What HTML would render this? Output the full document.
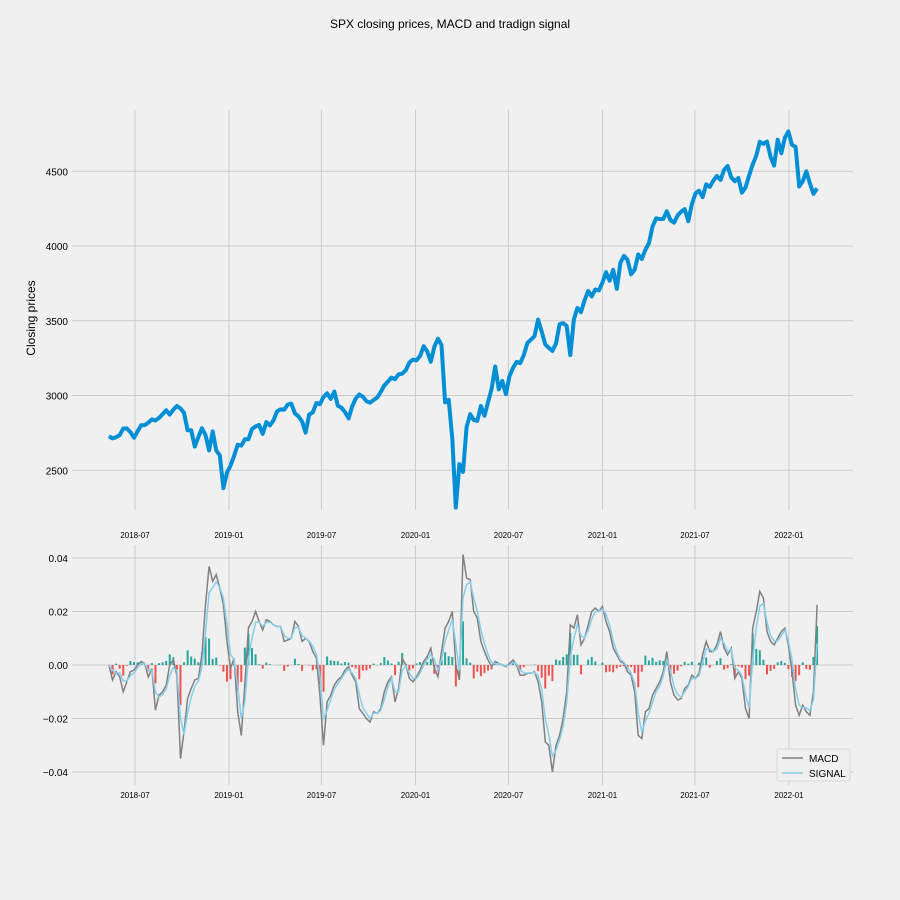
<!DOCTYPE html>
<html><head><meta charset="utf-8"><style>
body{margin:0;background:#f0f0f0;}
svg{display:block;font-family:"Liberation Sans","DejaVu Sans",sans-serif;}
</style></head><body>
<svg id="c" width="900" height="900" xmlns="http://www.w3.org/2000/svg">
<rect width="900" height="900" fill="#f0f0f0"/>
<text x="450" y="28" text-anchor="middle" font-size="12" fill="#000">SPX closing prices, MACD and tradign signal</text>
<text transform="translate(35,318) rotate(-90)" text-anchor="middle" font-size="12" fill="#000">Closing prices</text>
<g id="topPanel"></g>
<g id="botPanel"></g>
<g>
<rect x="777" y="749" width="73" height="32" rx="2" fill="#f0f0f0" stroke="#d8d8d8"/>
<line x1="782" y1="758" x2="803" y2="758" stroke="#808080" stroke-width="1.5"/>
<text x="809" y="762" font-size="10">MACD</text>
<line x1="782" y1="773" x2="803" y2="773" stroke="#87ceeb" stroke-width="1.5"/>
<text x="809" y="777" font-size="10">SIGNAL</text>
</g>
</svg>
<script>
const startDate = "2018-05-11";
const tickLabels = ["2018-07","2019-01","2019-07","2020-01","2020-07","2021-01","2021-07","2022-01"];
const priceTicks = [2500,3000,3500,4000,4500];
const macdTicks = [0.04,0.02,0,-0.02,-0.04];
const macdTickLabels = ["0.04","0.02","0.00","\u22120.02","\u22120.04"];
const prices = [2728,2713,2721,2735,2779,2780,2755,2718,2760,2801,2802,2819,2840,2833,2850,2875,2902,2872,2905,2930,2913,2885,2767,2767,2658,2723,2781,2736,2633,2760,2633,2600,2380,2485,
2531,2596,2671,2665,2707,2707,2775,2793,2803,2743,2822,2800,2834,2893,2907,2905,2940,2946,2881,2860,2826,2752,2873,2887,2950,2942,2990,3014,2977,3026,2932,2919,2889,2847,2926,2979,3007,2992,2962,2952,2970,2986,3023,3067,3093,3120,3110,3141,3146,3169,3221,3240,
3235,3265,3330,3295,3226,3328,3380,3338,2954,2972,2711,2250,2541,2489,2790,2875,2837,2831,2930,2864,2955,3044,3194,3041,3098,3009,3130,3185,3225,3216,3271,3351,3373,3397,3508,3427,3341,3319,3298,3348,3477,3484,3465,3270,3510,3585,3558,3638,3699,3663,3709,3703,3756,
3825,3768,3841,3714,3887,3934,3907,3811,3842,3943,3913,3975,4020,4129,4185,4180,4181,4233,4174,4156,4204,4230,4247,4166,4281,4352,4370,4327,4412,4395,4437,4468,4442,4509,4535,4459,4433,4455,4357,4391,4471,4545,4605,4697,4683,4698,4595,4538,4712,4620,4725,4766,
4677,4663,4398,4432,4500,4419,4349,4385];
const macd = [0,-0.0056,-0.0025,-0.0044,-0.01,-0.0063,-0.0025,-0.0019,0,0.0013,0.0006,-0.0044,-0.0013,-0.0169,-0.0113,-0.01,-0.0075,0,0.0019,-0.0038,-0.035,-0.025,-0.0125,-0.0088,-0.0056,-0.005,0.0038,0.0225,0.0369,0.0313,0.0338,0.0288,0.0225,0.0088,-0.0013,0.0025,-0.0175,-0.0263,-0.0075,0.0138,0.0163,0.02,0.0163,0.0131,0.0169,0.0163,0.015,0.0144,0.0144,0.0088,0.0094,0.01,0.0163,0.0144,0.0088,0.01,0.0088,0.005,0.0025,-0.0113,-0.03,-0.0138,-0.0113,-0.0075,-0.0056,-0.0044,-0.0019,-0.0006,-0.0038,-0.0063,-0.0163,-0.0181,-0.02,-0.0213,-0.0175,-0.0181,-0.0163,-0.01,-0.0063,-0.0044,-0.0138,-0.0088,0.0025,0,-0.005,-0.0063,-0.0044,-0.0019,0.0013,0.0031,0.0063,-0.0013,-0.0044,0.005,0.0138,0.0163,0.02,0,-0.0056,0.0413,0.0325,0.0319,0.02,0.0175,0.0088,0.005,0.0019,-0.0006,0.0013,0.0006,0,-0.0006,0.0006,0.0019,0,-0.0038,-0.0038,-0.0031,-0.0031,-0.0025,-0.0063,-0.0138,-0.0288,-0.03,-0.04,-0.03,-0.0263,-0.02,-0.01,0.015,0.0138,0.0188,0.0075,0.01,0.015,0.02,0.0213,0.02,0.0219,0.0163,0.0125,0.0063,0.0038,0.0013,0.0006,-0.0025,-0.0038,-0.01,-0.0263,-0.0275,-0.0175,-0.0163,-0.0113,-0.0088,-0.0063,-0.0025,0.005,-0.0063,-0.0113,-0.0131,-0.0125,-0.0088,-0.0075,-0.0038,-0.005,-0.0031,0.0038,0.0088,0.005,0.005,0.0075,0.0125,0.0063,0.0038,0.0063,-0.005,-0.0025,-0.005,-0.0163,-0.02,0.0138,0.02,0.0275,0.025,0.0125,0.0088,0.0075,0.01,0.0125,0.0138,0.0075,-0.0025,-0.015,-0.0188,-0.015,-0.0175,-0.0188,-0.01,0.0225];
const signal = [0,-0.002,-0.003,-0.003,-0.006,-0.006,-0.004,-0.003,-0.001,0.0005,0.0006,-0.002,-0.002,-0.01,-0.012,-0.011,-0.009,-0.004,-0.001,-0.002,-0.02,-0.026,-0.018,-0.012,-0.008,-0.006,-0.001,0.012,0.027,0.029,0.031,0.029,0.025,0.015,0.004,0.002,-0.008,-0.02,-0.014,0.002,0.01,0.016,0.016,0.0145,0.016,0.016,0.015,0.0145,0.0143,0.011,0.01,0.01,0.014,0.014,0.011,0.01,0.009,0.007,0.004,-0.004,-0.02,-0.017,-0.013,-0.009,-0.007,-0.005,-0.003,-0.0015,-0.003,-0.005,-0.011,-0.016,-0.018,-0.02,-0.018,-0.018,-0.017,-0.013,-0.008,-0.005,-0.01,-0.01,-0.002,-0.0005,-0.003,-0.005,-0.005,-0.003,0,0.002,0.004,0.002,-0.002,0.002,0.009,0.013,0.017,0.008,-0.002,0.025,0.03,0.031,0.025,0.02,0.013,0.008,0.004,0.001,0.0005,0.0005,0.0002,-0.0003,0,0.001,0.0005,-0.002,-0.003,-0.003,-0.003,-0.0027,-0.004,-0.009,-0.02,-0.026,-0.034,-0.032,-0.028,-0.023,-0.014,0.003,0.01,0.015,0.011,0.01,0.013,0.017,0.02,0.02,0.021,0.019,0.015,0.009,0.005,0.002,0.001,-0.001,-0.003,-0.007,-0.018,-0.025,-0.021,-0.018,-0.014,-0.01,-0.008,-0.004,0.002,-0.002,-0.008,-0.011,-0.012,-0.01,-0.008,-0.005,-0.005,-0.004,0.001,0.006,0.006,0.005,0.006,0.01,0.008,0.005,0.006,-0.001,-0.002,-0.004,-0.011,-0.016,0.002,0.014,0.022,0.023,0.016,0.011,0.009,0.009,0.011,0.013,0.009,0.002,-0.009,-0.015,-0.016,-0.016,-0.017,-0.013,0.008];

const NS="http://www.w3.org/2000/svg";
const DAY=86400000, t0=Date.UTC(2018,6,1);
function dateOf(i){const s=new Date(startDate+"T00:00:00Z");return s.getTime()+i*7*DAY;}
function xT(t){return 135+(t-t0)/DAY*0.5109;}
function xI(i){return xT(dateOf(i));}
function yP(p){return 246-(p-4000)*0.1495;}
function yM(v){return 665-v*2675;}
function mk(tag,attrs,parent){const e=document.createElementNS(NS,tag);for(const k in attrs)e.setAttribute(k,attrs[k]);parent.appendChild(e);return e;}
const gTop=document.getElementById('topPanel'), gBot=document.getElementById('botPanel');
function tickTime(lbl){const [y,m]=lbl.split('-').map(Number);return Date.UTC(y,m-1,1);}
[[gTop,110,510,538],[gBot,545,785,798]].forEach(([g,y0,y1,ly])=>{
  tickLabels.forEach(l=>{const x=xT(tickTime(l));
    const ln=mk('line',{x1:x,x2:x,y1:y0,y2:y1,stroke:'#cbcbcb','stroke-width':1},g);
    
    
    const t=mk('text',{x:x,y:ly,'text-anchor':'middle','font-size':8,fill:'#000'},g);t.textContent=l;
    
    
  });
});
priceTicks.forEach(p=>{const y=yP(p);
  const ln=mk('line',{x1:72,x2:853,y1:y,y2:y,stroke:'#cbcbcb','stroke-width':1},gTop);
  
  
  const t=mk('text',{x:68,y:y+4,'text-anchor':'end','font-size':10},gTop);t.textContent=p;
  
  
});
macdTicks.forEach((v,k)=>{const y=yM(v);
  const ln=mk('line',{x1:72,x2:853,y1:y,y2:y,stroke:'#cbcbcb','stroke-width':1},gBot);
  
  
  const t=mk('text',{x:68,y:y+4,'text-anchor':'end','font-size':10},gBot);t.textContent=macdTickLabels[k];
  
  
});
const pl=mk('polyline',{points:prices.map((p,i)=>xI(i).toFixed(1)+','+yP(p).toFixed(1)).join(' '),fill:'none',stroke:'#008fd5','stroke-width':4,'stroke-linejoin':'round'},gTop);


macd.forEach((m,i)=>{const d=m-signal[i];const y0=yM(0),y1=yM(d);
  const r=mk('rect',{x:xI(i)-1,y:Math.min(y0,y1),width:2,height:Math.abs(y1-y0),fill:d>=0?'#26a69a':'#ef5350'},gBot);
  
  
});
const ml=mk('polyline',{points:macd.map((v,i)=>xI(i).toFixed(1)+','+yM(v).toFixed(1)).join(' '),fill:'none',stroke:'#808080','stroke-width':1.5},gBot);


const sl=mk('polyline',{points:signal.map((v,i)=>xI(i).toFixed(1)+','+yM(v).toFixed(1)).join(' '),fill:'none',stroke:'#87ceeb','stroke-width':1.5},gBot);


</script>
</body></html>
